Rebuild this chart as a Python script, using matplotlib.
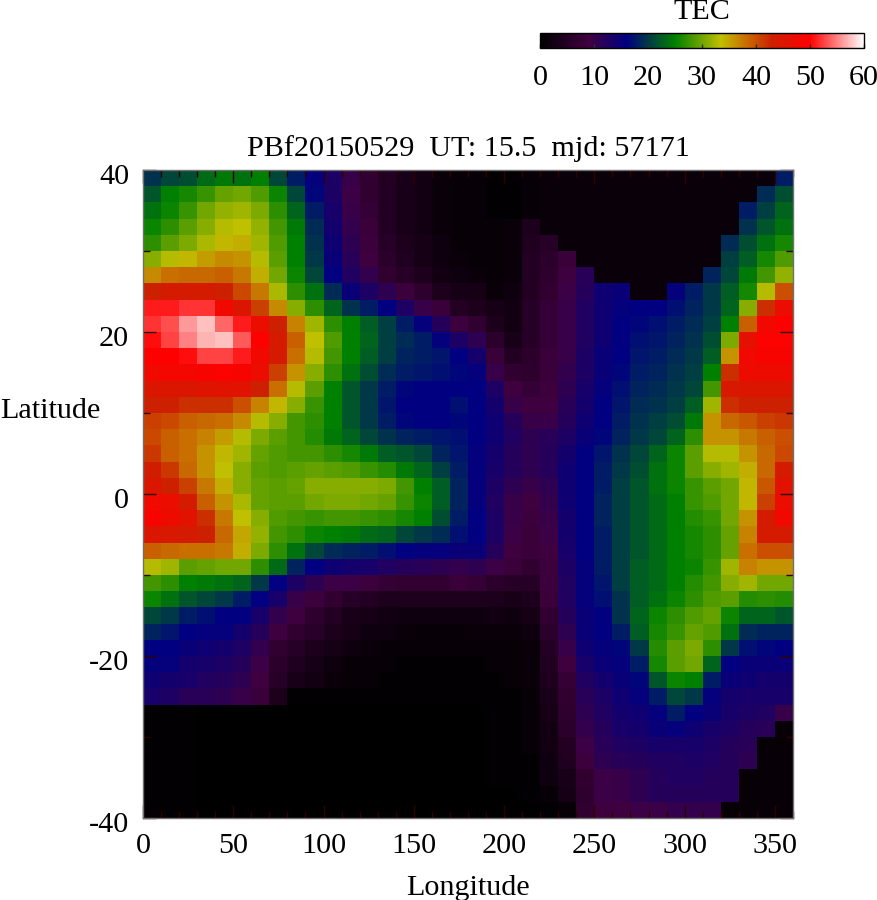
import numpy as np
import matplotlib
matplotlib.use('Agg')
import matplotlib.pyplot as plt
from matplotlib.colors import LinearSegmentedColormap
from matplotlib.transforms import ScaledTranslation

# values, 2 degree rows from lat 40 down to -40
lon_edges = np.arange(0, 361, 10)
lat_edges = np.arange(40, -41, -2)
tick_lons = [0, 50, 100, 150, 200, 250, 300, 350]
tick_lats = [-40, -20, 0, 20, 40]
cbar_ticks = [0, 10, 20, 30, 40, 50, 60]

# lon 0 to 170
tec_west = [
    [19.5, 21, 21.5, 23.5, 24.5, 24, 25, 21, 18, 15.5, 13, 10, 7, 5, 3.5, 2.5, 1.5, 1],
    [22, 25, 26, 27.5, 29.5, 30, 28.5, 25.5, 21, 16.5, 13, 9.5, 7, 5, 3.5, 2.5, 1.5, 1],
    [24, 25.5, 27.5, 30, 31.5, 32, 30.5, 27, 23, 18, 13.5, 10, 7.5, 5, 3.5, 2.5, 1.5, 1],
    [25.5, 27, 29, 31, 33, 33.5, 31.5, 28, 24.5, 19, 14, 10.5, 8, 5, 3.5, 2.5, 1.5, 1],
    [27, 29, 30.5, 32.5, 34, 34.5, 32, 28.5, 25, 19.5, 14.5, 11, 8.5, 5.5, 4, 3, 2, 1],
    [31, 33, 34, 35.5, 36.5, 36, 33, 29, 25, 20, 15, 11.5, 9, 6, 4.5, 3, 2, 1.5],
    [36.5, 38, 38.5, 38.5, 39, 37.5, 34.5, 30, 25.5, 21, 16, 12.5, 10.5, 7, 5.5, 4, 2.5, 2],
    [43, 44, 44, 44, 43, 40.5, 37.5, 32.5, 27, 24, 19, 15, 13, 11, 8.5, 6.5, 4, 3],
    [51, 51, 52, 52, 48, 45, 41, 36.5, 31, 27, 23, 19.5, 18, 16, 13, 10, 8, 5],
    [52, 53, 56, 57.5, 54, 51, 47, 43, 37, 32, 27, 25, 22.5, 20.5, 18, 15.5, 12, 8.5],
    [50.5, 52.5, 55, 57, 57.5, 53.5, 50, 44, 39, 33.5, 28.5, 25, 23, 20.5, 19, 18, 15.5, 13],
    [50, 50, 50.5, 52.5, 52.5, 51, 48, 44, 38, 33, 28, 25, 22.5, 20.5, 18.5, 18, 17.5, 16],
    [48, 48.5, 48.5, 49, 49.5, 49, 47, 41, 36, 31, 27, 24, 21.5, 19, 18, 17.5, 17, 16.5],
    [45, 45, 45, 45.5, 46, 46, 43, 38, 33, 29, 25, 22, 20, 18, 16.5, 16, 16, 16],
    [43, 43, 42, 42, 42, 40, 37, 34, 31, 27.5, 25, 22, 20, 17.5, 16, 16, 16, 17],
    [41, 40.5, 39, 38.5, 38, 36.5, 33, 31, 28, 27, 25, 22, 20, 18, 16.5, 16, 16, 16.5],
    [40.5, 39, 38, 37, 35.5, 33, 30.5, 29, 28, 26.5, 24.5, 23, 21, 19.5, 18.5, 18, 17.5, 17],
    [41.5, 39, 38, 36, 34, 32, 29.5, 28.5, 28, 28, 27, 26, 24.5, 22.5, 22, 21, 18.5, 17.5],
    [43.5, 41.5, 38.5, 36, 33.5, 31, 29, 28.5, 29, 29.5, 29, 28.5, 27.5, 26.5, 24.5, 23, 20.5, 18],
    [45, 43, 41, 37.5, 34.5, 31, 29.5, 29, 29.5, 31, 31, 31, 31, 30.5, 28, 25, 22.5, 18.5],
    [48, 47, 44, 39, 36, 32.5, 29.5, 29, 29, 30, 30.5, 30.5, 30, 29.5, 27.5, 25.5, 22.5, 18.5],
    [49, 47.5, 46, 42, 37.5, 33.5, 31, 28.5, 28, 27.5, 28, 28, 27.5, 27, 26, 25, 21.5, 18],
    [45, 44.5, 44, 43, 38.5, 35, 31.5, 28, 27, 25.5, 25, 24.5, 23.5, 23, 21, 20, 19, 17],
    [39, 38.5, 38, 38, 37.5, 34.5, 30.5, 27, 24, 21, 19, 18.5, 18, 17, 16, 15.5, 15.5, 15],
    [33, 32, 29, 29.5, 30, 30, 27, 23.5, 18.5, 16, 14.5, 14, 13.5, 12.5, 12, 11.5, 11, 10.5],
    [28, 27, 25, 24.5, 24, 23, 20, 16, 13, 11, 9.5, 9.5, 8.5, 7.5, 7, 7, 7, 8],
    [25.5, 24, 22, 21, 20, 18, 16, 13.5, 10, 8.5, 7, 5.5, 5, 4, 4, 4, 4, 4],
    [21, 20, 18, 17, 16, 16, 13.5, 10.5, 9, 6.5, 5, 3.5, 3, 2.5, 2, 2, 2, 2],
    [18.5, 17.5, 16, 15.5, 15.5, 14, 12, 9, 7, 5.5, 4, 3, 2, 2, 1.5, 1, 1, 1],
    [16, 16, 15, 14.5, 14, 13, 10.5, 7, 5.5, 4, 3, 2, 1.5, 1, 1, 1, 1, 1],
    [15.5, 15.5, 14, 13.5, 13, 12, 9.5, 6, 4.5, 3, 2, 1, 1, 1, 0.5, 0.5, 0.5, 0.5],
    [14.5, 14, 13.5, 12.5, 12, 11, 9, 5.5, 3.5, 2.5, 1.5, 1, 1, 0.5, 0.5, 0.5, 0.5, 0.5],
    [13.5, 13, 11.5, 11.5, 11, 10, 8, 4, 0.5, 0.5, 0.5, 0.5, 0.5, 0.5, 0.5, 0.5, 0.5, 0.5],
    [0.5, 0.5, 0.5, 0, 0, 0, 0, 0, 0, 0, 0, 0, 0, 0, 0, 0, 0, 0],
    [0.5, 0.5, 0.5, 0, 0, 0, 0, 0, 0, 0, 0, 0, 0, 0, 0, 0, 0, 0],
    [0.5, 0.5, 0.5, 0, 0, 0, 0, 0, 0, 0, 0, 0, 0, 0, 0, 0, 0, 0],
    [0.5, 0.5, 0.5, 0, 0, 0, 0, 0, 0, 0, 0, 0, 0, 0, 0, 0, 0, 0],
    [0.5, 0.5, 0.5, 0, 0, 0, 0, 0, 0, 0, 0, 0, 0, 0, 0, 0, 0, 0],
    [0.5, 0.5, 0.5, 0, 0, 0, 0, 0, 0, 0, 0, 0, 0, 0, 0, 0, 0, 0],
    [0.5, 0.5, 0.5, 0, 0, 0, 0, 0, 0, 0, 0, 0, 0, 0, 0, 0, 0, 0],
]

# lon 180 to 350
tec_east = [
    [1, 0.5, 0.5, 1, 1.5, 1.5, 1.5, 1.5, 1.5, 1.5, 1.5, 1.5, 1.5, 1.5, 1.5, 1.5, 1.5, 18],
    [1, 0.5, 0.5, 1, 1.5, 1.5, 1.5, 1.5, 1.5, 1.5, 1.5, 1.5, 1.5, 1.5, 1.5, 1.5, 19, 21.5],
    [1, 0.5, 0.5, 1, 1.5, 1.5, 1.5, 1.5, 1.5, 1.5, 1.5, 1.5, 1.5, 1.5, 1.5, 18, 20.5, 23],
    [1, 1, 1.5, 4, 1.5, 1.5, 1.5, 1.5, 1.5, 1.5, 1.5, 1.5, 1.5, 1.5, 1.5, 19.5, 22, 24],
    [1, 1, 1.5, 4.5, 5.5, 1.5, 1.5, 1.5, 1.5, 1.5, 1.5, 1.5, 1.5, 1.5, 19, 21.5, 24, 26],
    [1, 1, 1.5, 5, 6, 8, 1.5, 1.5, 1.5, 1.5, 1.5, 1.5, 1.5, 1.5, 20.5, 22.5, 26, 28.5],
    [1.5, 1, 1.5, 5, 6.5, 9, 11.5, 1.5, 1.5, 1.5, 1.5, 1.5, 1.5, 18.5, 21, 24.5, 28, 31.5],
    [3, 1.5, 2, 5, 7, 9.5, 12, 14.5, 15, 1.5, 1.5, 15.5, 18, 20, 22.5, 26, 33, 40],
    [4, 3, 2.5, 5.5, 7.5, 10, 12.5, 14.5, 15.5, 16, 16, 17, 18.5, 20, 23, 31, 42, 47],
    [7, 4, 2.5, 5.5, 7.5, 10, 12.5, 14.5, 16, 16.5, 17, 18, 19, 20.5, 25, 39, 48, 50],
    [11, 6, 3.5, 5.5, 7.5, 10, 12.5, 14.5, 16, 17, 17.5, 18.5, 19.5, 21.5, 30.5, 46.5, 49.5, 49.5],
    [14, 8, 5, 6, 8, 10, 13, 15, 16, 17.5, 18, 19, 20, 22.5, 36, 48, 49, 49],
    [15.5, 10, 7, 6.5, 8, 10.5, 13, 15, 16.5, 18, 18.5, 19.5, 20.5, 25, 42, 47.5, 47.5, 47.5],
    [16, 13, 9, 7.5, 8.5, 11, 13.5, 15.5, 17, 18.5, 19, 20, 21, 28, 44.5, 45, 45, 45],
    [16, 14, 10, 9, 9, 11.5, 14, 16, 17.5, 19, 19.5, 20.5, 22.5, 32, 42, 43, 43, 43],
    [16, 14.5, 12, 10, 10, 12, 14.5, 16, 18, 19.5, 20.5, 21.5, 24.5, 36, 38.5, 39.5, 41, 41.5],
    [16, 14.5, 12.5, 11, 11.5, 13, 15, 16.5, 18.5, 20, 21, 23, 27, 36, 36, 37.5, 39, 40],
    [15.5, 14, 12, 11, 12, 14, 16, 17.5, 19.5, 21, 23, 25.5, 29, 33, 33, 36, 38.5, 40.5],
    [15.5, 13.5, 12, 11, 12, 14.5, 16, 18, 20, 21.5, 24, 25.5, 29, 31, 32, 34.5, 38.5, 44],
    [15.5, 13, 11, 10, 11, 14.5, 16, 18, 20.5, 22, 24, 25.5, 27.5, 29, 30, 34, 39.5, 46],
    [15.5, 12.5, 10, 9, 10.5, 14.5, 16, 18.5, 20.5, 22, 23.5, 25, 27.5, 28.5, 30, 34, 41, 47],
    [16, 13, 10, 8.5, 10, 14, 16, 18.5, 20.5, 22, 23.5, 25, 26.5, 27.5, 30, 36, 44, 48],
    [16, 13, 9.5, 8, 9.5, 14, 16, 18, 20.5, 22, 23.5, 25, 26, 27, 29.5, 37, 44, 44],
    [15, 12, 9, 8, 9, 13.5, 16, 18, 20.5, 22, 23.5, 25, 26, 27, 29.5, 38, 40, 40],
    [11, 9.5, 8, 7, 8.5, 13, 15.5, 18, 20.5, 22.5, 23.5, 25, 25.5, 27.5, 32, 37, 36, 36],
    [7.5, 6, 5.5, 5.5, 8.5, 12.5, 15.5, 17.5, 20.5, 22.5, 23.5, 25, 26.5, 28, 31, 32, 30, 30],
    [4, 4, 3.5, 4, 8, 12.5, 15.5, 17, 19.5, 22.5, 24, 25.5, 27, 28.5, 29, 26.5, 27, 26.5],
    [2, 2.5, 2, 3, 7, 12, 15, 16, 19.5, 23, 25.5, 27, 28.5, 29.5, 25.5, 23, 23, 22],
    [1.5, 1.5, 1.5, 2, 6, 11, 15, 16, 18, 22.5, 26, 27.5, 29.5, 28.5, 24, 19, 18.5, 18.5],
    [1, 1, 1, 1.5, 5, 10, 14.5, 15.5, 16.5, 20, 26.5, 29, 30.5, 27, 20, 17, 16.5, 16],
    [0.5, 1, 1, 1.5, 4.5, 9, 13.5, 15, 15.5, 18, 26, 29, 30, 23, 16, 15, 15, 15],
    [0.5, 0.5, 1, 1.5, 4, 7.5, 12.5, 14, 15, 16.5, 22, 25.5, 25, 18, 15, 14.5, 14, 14],
    [0.5, 0.5, 0.5, 1, 3.5, 7, 11.5, 13, 14.5, 15.5, 18, 21, 20, 15.5, 14, 13.5, 13.5, 13.5],
    [0, 0.5, 0.5, 1, 3, 6.5, 11, 12.5, 14, 14.5, 15.5, 18, 16, 15, 13.5, 13, 12.5, 10],
    [0, 0.5, 0.5, 1, 2.5, 6, 10.5, 12, 13.5, 14, 15, 15.5, 14.5, 13.5, 13, 12, 11.5, 1],
    [0, 0.5, 0.5, 1, 2.5, 5, 9.5, 11.5, 12.5, 13, 13.5, 13.5, 13.5, 13, 12, 11.5, 1, 1],
    [0, 0.5, 0.5, 0.5, 2, 4.5, 8.5, 11, 11.5, 12, 12.5, 12.5, 13, 12.5, 12, 11, 1, 1],
    [0, 0.5, 0.5, 0.5, 2, 3.5, 7, 9.5, 10, 11, 12, 12.5, 12.5, 12, 12, 1, 1, 1],
    [0, 0, 0, 0.5, 1, 3, 6.5, 9.5, 10, 11, 12, 12, 12, 12, 12, 1, 1, 1],
    [0, 0, 0, 0, 0.5, 1, 7, 9, 9, 9.5, 9.5, 10.5, 10.5, 10.5, 1, 1, 1, 1],
]

tec = np.hstack([np.array(tec_west), np.array(tec_east)])

plt.rcParams['font.family'] = ['Liberation Serif', 'DejaVu Serif']
plt.rcParams['font.size'] = 21.7
plt.rcParams['axes.unicode_minus'] = False

palette = [(0, '#000000'), (9, '#400040'), (16, '#000080'), (25, '#008000'),
           (33.5, '#c0c000'), (38, '#c87000'), (43, '#cc2000'), (50, '#ff0000'), (60, '#ffffff')]
cmap = LinearSegmentedColormap.from_list('tec', [(v / 60, c) for v, c in palette], N=512)

W, H = 878, 900
fig = plt.figure(figsize=(W / 100, H / 100), dpi=100)
ax = fig.add_axes([143 / W, 1 - 818 / H, 650 / W, 648 / H])
mesh = ax.pcolormesh(lon_edges, lat_edges, tec, cmap=cmap, vmin=0, vmax=60, shading='flat')

ax.set_xlim(0, 360)
ax.set_ylim(-40, 40)
ax.set_xticks(tick_lons)
ax.set_yticks(tick_lats)
ax.set_xticks(np.arange(0, 361, 10), minor=True)
ax.set_yticks(np.arange(-40, 41, 10), minor=True)
ax.tick_params(which='major', direction='in', top=True, right=True, length=9.5, width=1, color='#300000')
ax.tick_params(which='minor', direction='in', top=True, right=True, length=5, width=1, color='#300000')
ax.tick_params(axis='x', which='major', pad=11)
ax.tick_params(axis='y', which='major', pad=10)
for lab in ax.get_yticklabels():
    lab.set_transform(lab.get_transform() + ScaledTranslation(0, -4 / 100, fig.dpi_scale_trans))
for s in ax.spines.values():
    s.set_color('#707070')
    s.set_linewidth(1)

ax.set_title('PBf20150529  UT: 15.5  mjd: 57171', fontsize=21.7, pad=10)
ax.set_xlabel('Longitude', labelpad=11)
ax.set_ylabel('Latitude', rotation=0, ha='center', va='center')
ax.yaxis.set_label_coords(-93 / 650, 407 / 648)

cax = fig.add_axes([540 / W, 1 - 48 / H, 324 / W, 15 / H])
cb = fig.colorbar(mesh, cax=cax, orientation='horizontal')
cb.set_ticks(cbar_ticks)
cax.tick_params(direction='in', length=3, width=1, color='#303030', pad=12)
cax.set_title('TEC', fontsize=21.7, pad=10)
cb.outline.set_linewidth(1)

fig.savefig('out.png', dpi=100)
